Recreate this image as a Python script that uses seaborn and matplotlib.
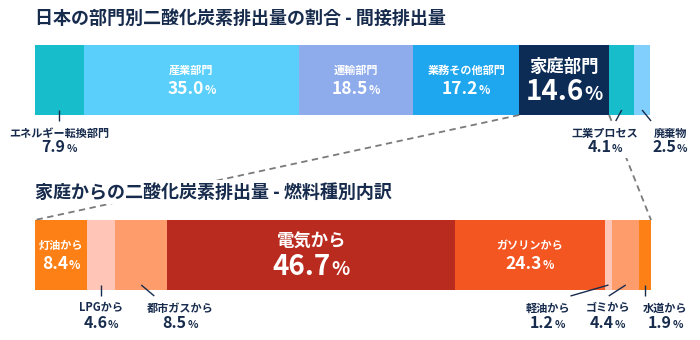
import matplotlib
matplotlib.use("Agg")
import matplotlib.pyplot as plt
import seaborn as sns
import pandas as pd
from matplotlib.offsetbox import TextArea, HPacker, VPacker, AnnotationBbox

# --- data -------------------------------------------------------------
title_top = "日本の部門別二酸化炭素排出量の割合 - 間接排出量"
title_bottom = "家庭からの二酸化炭素排出量 - 燃料種別内訳"

sectors = ["エネルギー転換部門", "産業部門", "運輸部門", "業務その他部門",
           "家庭部門", "工業プロセス", "廃棄物"]
sector_share = [7.9, 35.0, 18.5, 17.2, 14.6, 4.1, 2.5]
sector_colors = ["#17bdcb", "#5acffc", "#8eabec", "#1ea6ee",
                 "#0c2b55", "#17bdcb", "#80cffc"]

fuels = ["灯油から", "LPGから", "都市ガスから", "電気から", "ガソリンから",
         "軽油から", "ゴミから", "水道から"]
fuel_share = [8.4, 4.6, 8.5, 46.7, 24.3, 1.2, 4.4, 1.9]
fuel_colors = ["#fd8017", "#ffc5b6", "#fe9c6b", "#ba2b1f", "#f45622",
               "#ffc5b6", "#fe9c6b", "#fd8017"]

# label style per segment: "in", "big" (inside, large) or "out" (below with leader)
# out-labels: (label dx, leader end dx) in pixels from the segment centre
sector_labels = [("out", 0, 0), ("in",), ("in",), ("in",), ("big",),
                 ("out", -17, -6), ("out", 28, 9)]
fuel_labels = [("in",), ("out", 0, 0), ("out", 39, 13), ("big",), ("in",),
               ("out", -61, -38), ("out", -18, -17), ("out", 20, 0)]

# --- styling ----------------------------------------------------------
W, H = 700, 340
NAVY = "#172b4d"
sns.set_theme(style="white")
plt.rcParams["font.family"] = ["Noto Sans CJK JP", "DejaVu Sans"]

fig = plt.figure(figsize=(W / 100, H / 100), dpi=100)

BAR_LEFT, BAR_W, BAR_H = 35, 616, 70
TOP_Y0, BOT_Y0 = 45, 220  # pixel top of each bar


def bar_axes(top_px):
    return fig.add_axes([BAR_LEFT / W, (H - top_px - BAR_H) / H, BAR_W / W, BAR_H / H])


def stacked_bar(ax, names, shares, colors):
    cum = pd.Series(shares).cumsum()
    df = pd.DataFrame({"name": names, "end": cum.values, "row": "all"})
    # longest cumulative bar first, so shorter ones are painted on top
    order = list(reversed(names))
    sns.barplot(data=df, x="end", y="row", hue="name", hue_order=order,
                palette=dict(zip(names, colors)), saturation=1, dodge=False,
                width=1.0, orient="h", errorbar=None, legend=False, linewidth=0,
                ax=ax)
    ax.set_xlim(0, 100)
    ax.set_ylim(0.5, -0.5)
    ax.axis("off")
    starts = (cum - pd.Series(shares)).values
    return starts, cum.values


ax_top = bar_axes(TOP_Y0)
ax_bot = bar_axes(BOT_Y0)
top_start, top_end = stacked_bar(ax_top, sectors, sector_share, sector_colors)
bot_start, bot_end = stacked_bar(ax_bot, fuels, fuel_share, fuel_colors)

# overlay in pixel coordinates (origin top-left) for titles, labels, leaders
ov = fig.add_axes([0, 0, 1, 1], zorder=5)
ov.set_xlim(0, W)
ov.set_ylim(H, 0)
ov.axis("off")


def px(ax, x):
    return ax.transData.transform((x, 0))[0]


def label_block(x, y, name, value, color, name_size, num_size, sep, white_bg=False):
    num = f"{value:.1f}"
    name_ta = TextArea(name, textprops=dict(color=color, fontsize=name_size, fontweight="bold"))
    num_ta = TextArea(num, textprops=dict(color=color, fontsize=num_size, fontweight="bold"))
    pct_ta = TextArea("%", textprops=dict(color=color, fontsize=num_size * 0.68, fontweight="bold"))
    row = HPacker(children=[num_ta, pct_ta], align="baseline", pad=0, sep=0.5)
    box = VPacker(children=[name_ta, row], align="center", pad=0, sep=sep)
    ab = AnnotationBbox(box, (x, y), xycoords=ov.transData, box_alignment=(0.5, 0.5),
                        frameon=white_bg, pad=0.15, annotation_clip=False, zorder=4)
    if white_bg:
        ab.patch.set_facecolor("white")
        ab.patch.set_edgecolor("none")
    ov.add_artist(ab)


def annotate_bar(ax, top_px, names, shares, starts, ends, styles):
    bottom_px = top_px + BAR_H
    mid_px = top_px + BAR_H / 2
    for name, val, s, e, st in zip(names, shares, starts, ends, styles):
        cx = px(ax, (s + e) / 2)
        if st[0] == "in":
            label_block(cx, mid_px + 1, name, val, "white", 8, 12.5, 2)
        elif st[0] == "big":
            label_block(cx, mid_px + 2, name, val, "white", 12.5, 20, 1.5)
        else:
            dx_label, dx_lead = st[1], st[2]
            ov.plot([cx, cx + dx_lead], [bottom_px - 5, bottom_px + 6],
                    color=NAVY, lw=1, solid_capstyle="butt", zorder=3)
            label_block(cx + dx_label, bottom_px + 26, name, val, NAVY, 8, 11.5, 0,
                        white_bg=True)


annotate_bar(ax_top, TOP_Y0, sectors, sector_share, top_start, top_end, sector_labels)
annotate_bar(ax_bot, BOT_Y0, fuels, fuel_share, bot_start, bot_end, fuel_labels)

# dashed zoom lines from the household segment to the breakdown bar
home = sectors.index("家庭部門")
for xa, xb in [(top_start[home], 0), (top_end[home], 100)]:
    ov.plot([px(ax_top, xa), px(ax_bot, xb)], [TOP_Y0 + BAR_H, BOT_Y0],
            color="#7a7a7a", lw=1.3, dashes=(3.5, 2.5), zorder=1)

for text, y in [(title_top, 18), (title_bottom, 192)]:
    ov.text(BAR_LEFT, y, text, fontsize=13, fontweight="bold", color=NAVY,
            ha="left", va="center", zorder=4,
            bbox=dict(fc="white", ec="none", pad=2))

fig.savefig("out.png", dpi=100)
